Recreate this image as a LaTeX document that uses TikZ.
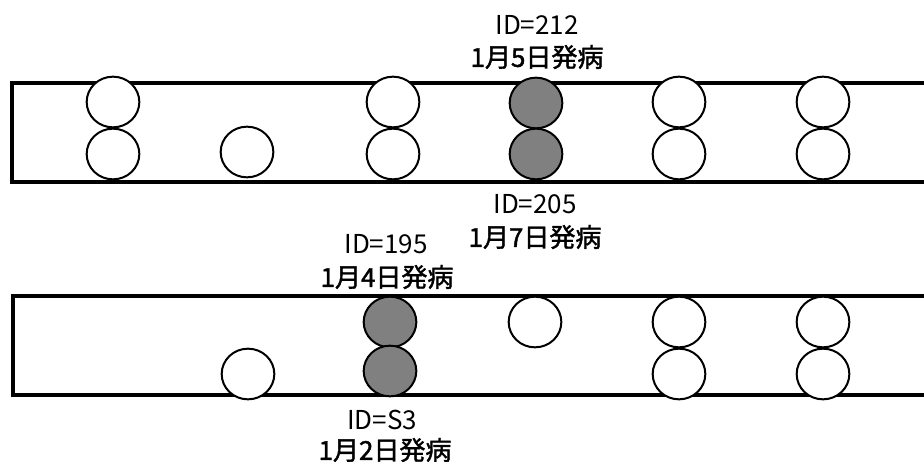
\documentclass[tikz,border=0pt]{standalone}
\usepackage{fontspec}
\setmainfont{Noto Sans CJK JP}
\newfontfamily\jpsemi[FakeBold=1.6]{Noto Sans CJK JP}
\usetikzlibrary{shapes.geometric}
\definecolor{dotgray}{HTML}{808080}
\begin{document}
\begin{tikzpicture}[x=0.75pt,y=-0.75pt,
  seat/.style={ellipse,draw=black,line width=1.5pt,fill=white,minimum width=39.5pt,minimum height=38pt,inner sep=0pt},
  sick/.style={seat,fill=dotgray},
  bench/.style={line width=2.3pt},
  idlabel/.style={font=\fontsize{19.5pt}{21pt}\selectfont,inner sep=0pt},
  datelabel/.style={font=\jpsemi\fontsize{19.5pt}{21pt}\selectfont,inner sep=0pt}]
\useasboundingbox (0,0) rectangle (924,461);
% benches
\draw[bench] (924,83) -- (12,83) -- (12,182) -- (924,182);
\draw[bench] (924,296) -- (13,296) -- (13,395) -- (924,395);
% top row
\node[seat] (a1t) at (113,102) {};
\node[seat] (a1b) at (113,154) {};
\node[seat] (a2)  at (247,152) {};
\node[seat] (a3t) at (393,102) {};
\node[seat] (a3b) at (393,154) {};
\node[sick] (a4t) at (536,103) {};
\node[sick] (a4b) at (536,154) {};
\node[seat] (a5t) at (679,102) {};
\node[seat] (a5b) at (679,154) {};
\node[seat] (a6t) at (823,102) {};
\node[seat] (a6b) at (823,154) {};
% bottom row
\node[seat] (b2)  at (248,374) {};
\node[sick] (b3t) at (390,322) {};
\node[sick] (b3b) at (390,371) {};
\node[seat] (b4)  at (535,322) {};
\node[seat] (b5t) at (679,322) {};
\node[seat] (b5b) at (679,374) {};
\node[seat] (b6t) at (823,322) {};
\node[seat] (b6b) at (823,374) {};
% labels
\node[idlabel]   (l212) at (537,25)  {ID=212};
\node[datelabel] (d212) at (537,57)  {1月5日発病};
\node[idlabel]   (l205) at (535,204) {ID=205};
\node[datelabel] (d205) at (535,237) {1月7日発病};
\node[idlabel]   (l195) at (386,244) {ID=195};
\node[datelabel] (d195) at (387,277) {1月4日発病};
\node[idlabel]   (ls3)  at (382,420) {ID=S3};
\node[datelabel] (ds3)  at (385,450) {1月2日発病};
\end{tikzpicture}
\end{document}
